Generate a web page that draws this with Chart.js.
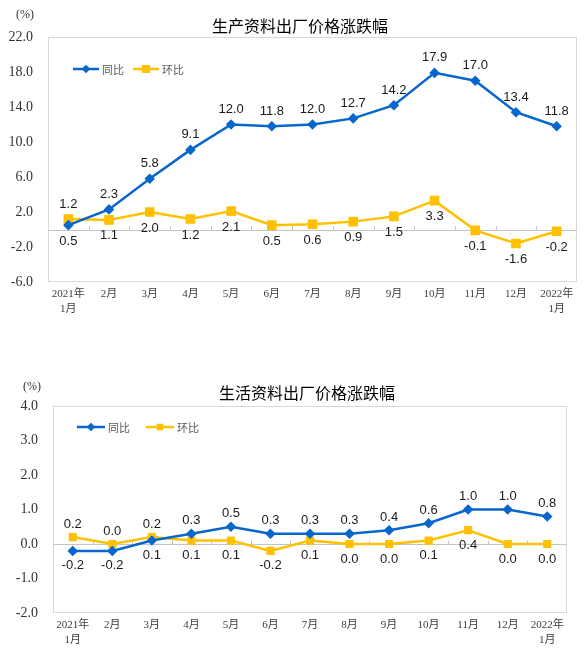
<!DOCTYPE html>
<html>
<head>
<meta charset="utf-8">
<script src="https://cdn.jsdelivr.net/npm/chart.js@4.4.1/dist/chart.umd.min.js"></script>
<style>
  body { margin: 0; background: #fff; }
  canvas { position: absolute; left: 0; }
</style>
</head>
<body>
<canvas id="shengchan" width="585" height="325" style="top:0"></canvas>
<canvas id="shenghuo" width="585" height="328" style="top:325px"></canvas>
<script>
// ---- DATA ----
const maanden = [["2021年", "1月"], "2月", "3月", "4月", "5月", "6月", "7月", "8月", "9月", "10月", "11月", "12月", ["2022年", "1月"]];

const scTitel = "生产资料出厂价格涨跌幅";
const scTongbi = [0.5, 2.3, 5.8, 9.1, 12.0, 11.8, 12.0, 12.7, 14.2, 17.9, 17.0, 13.4, 11.8];
const scHuanbi = [1.2, 1.1, 2.0, 1.2, 2.1, 0.5, 0.6, 0.9, 1.5, 3.3, -0.1, -1.6, -0.2];
const scTicks = [-6, -2, 2, 6, 10, 14, 18, 22];

const shTitel = "生活资料出厂价格涨跌幅";
const shTongbi = [-0.2, -0.2, 0.1, 0.3, 0.5, 0.3, 0.3, 0.3, 0.4, 0.6, 1.0, 1.0, 0.8];
const shHuanbi = [0.2, 0.0, 0.2, 0.1, 0.1, -0.2, 0.1, 0.0, 0.0, 0.1, 0.4, 0.0, 0.0];
const shTicks = [-2, -1, 0, 1, 2, 3, 4];

const reeksNamen = ["同比", "环比"];
const BLAUW = "#0866cc";
const GEEL = "#ffc000";

// ---- PLUGIN: kader, nullijn, labels, legende, titel ----
const kaderPlugin = {
    id: "kader",
    beforeDatasetsDraw(chart, args, o) {
        const ctx = chart.ctx;
        const a = chart.chartArea;
        const x = chart.scales.x;
        const y = chart.scales.y;
        ctx.save();
        ctx.lineWidth = 1;
        ctx.strokeStyle = "#d9d9d9";
        ctx.strokeRect(a.left + 0.5, a.top + 0.5, a.width - 1, a.height - 1);
        const y0 = Math.round(y.getPixelForValue(0)) + 0.5;
        ctx.strokeStyle = "#c4c4c4";
        ctx.beginPath();
        ctx.moveTo(a.left, y0);
        ctx.lineTo(a.right, y0);
        const n = chart.data.labels.length;
        for (let i = 1; i < n; i++) {
            const xb = Math.round((x.getPixelForValue(i - 1) + x.getPixelForValue(i)) / 2) + 0.5;
            ctx.moveTo(xb, y0);
            ctx.lineTo(xb, y0 - 4);
        }
        ctx.stroke();
        ctx.restore();
    },
    afterDatasetsDraw(chart, args, o) {
        const ctx = chart.ctx;
        const a = chart.chartArea;
        const sets = chart.data.datasets;
        ctx.save();
        // waardelabels: hoogste waarde boven, laagste onder
        ctx.font = "13px 'Liberation Sans', Arial, sans-serif";
        ctx.fillStyle = "#1a1a1a";
        ctx.textAlign = "center";
        ctx.textBaseline = "middle";
        sets.forEach((ds, d) => {
            const meta = chart.getDatasetMeta(d);
            meta.data.forEach((pt, i) => {
                const ander = sets[1 - d].data[i];
                const boven = ds.data[i] > ander || (ds.data[i] === ander && d === 0);
                const dy = boven ? -o.boven : o.onder;
                ctx.fillText(ds.data[i].toFixed(1), pt.x, pt.y + dy);
            });
        });
        // legende
        ctx.font = "11px 'Noto Sans CJK SC', sans-serif";
        ctx.textAlign = "left";
        sets.forEach((ds, d) => {
            const lx = a.left + o.legendX[d];
            const ly = a.top + o.legendY;
            ctx.strokeStyle = ds.borderColor;
            ctx.lineWidth = 2.5;
            ctx.beginPath();
            ctx.moveTo(lx, ly);
            ctx.lineTo(lx + o.legendLijn, ly);
            ctx.stroke();
            ctx.fillStyle = ds.borderColor;
            Chart.helpers.drawPoint(ctx, {
                pointStyle: ds.pointStyle, radius: ds.pointRadius - 1, rotation: 0, borderWidth: 1
            }, lx + o.legendLijn / 2, ly);
            ctx.fillStyle = "#595959";
            ctx.fillText(reeksNamen[d], lx + o.legendLijn + 3, ly + 1);
        });
        // titel en eenheid
        ctx.font = "16px 'Noto Sans CJK SC', sans-serif";
        ctx.fillStyle = "#000";
        ctx.textAlign = "center";
        ctx.fillText(o.titel, o.titelX, a.top - o.titelDy);
        ctx.font = "12px 'Liberation Serif', serif";
        ctx.fillStyle = "#333";
        ctx.fillText("(%)", o.eenheidX, a.top - o.eenheidDy);
        ctx.restore();
    }
};

function maakGrafiek(id, tongbi, huanbi, ticks, links, rechts, boven, onder, hoogte, extra) {
    const ctx = document.getElementById(id).getContext("2d");
    return new Chart(ctx, {
        type: "line",
        data: {
            labels: maanden,
            datasets: [{
                label: reeksNamen[0],
                data: tongbi,
                borderColor: BLAUW,
                backgroundColor: BLAUW,
                borderWidth: extra.lijn,
                pointStyle: "rectRot",
                pointRadius: 3.5,
                tension: 0
            }, {
                label: reeksNamen[1],
                data: huanbi,
                borderColor: GEEL,
                backgroundColor: GEEL,
                borderWidth: extra.lijn,
                pointStyle: "rect",
                pointRadius: extra.blok,
                tension: 0
            }]
        },
        plugins: [kaderPlugin],
        options: {
            responsive: false,
            animation: false,
            devicePixelRatio: 1,
            layout: { padding: { top: boven, right: 585 - rechts, left: 0, bottom: 0 } },
            plugins: {
                legend: { display: false },
                tooltip: { enabled: false },
                kader: extra
            },
            scales: {
                x: {
                    offset: true,
                    grid: { display: false, drawTicks: false },
                    border: { display: false },
                    ticks: {
                        color: "#404040",
                        font: { family: "'Liberation Serif', 'Noto Sans CJK SC', serif", size: 11, lineHeight: 1.36 },
                        padding: 5,
                        maxRotation: 0,
                        autoSkip: false
                    },
                    afterFit: (s) => { s.height = hoogte - onder; }
                },
                y: {
                    min: ticks[0],
                    max: ticks[ticks.length - 1],
                    grid: { display: false, drawTicks: false },
                    border: { display: false },
                    afterBuildTicks: (s) => { s.ticks = ticks.map(v => ({ value: v })); },
                    ticks: {
                        color: "#333",
                        font: { family: "'Liberation Serif', serif", size: 14 },
                        padding: 15,
                        callback: (v) => Number(v).toFixed(1)
                    },
                    afterFit: (s) => { s.width = links; }
                }
            }
        }
    });
}

maakGrafiek("shengchan", scTongbi, scHuanbi, scTicks, 48, 577, 37, 282, 325, {
    titel: scTitel, titelX: 300, titelDy: 11, eenheidX: 25, eenheidDy: 22,
    legendX: [25, 85], legendY: 32, legendLijn: 26,
    boven: 15, onder: 16, lijn: 2.5, blok: 5
});
maakGrafiek("shenghuo", shTongbi, shHuanbi, shTicks, 53, 567, 81, 288, 328, {
    titel: shTitel, titelX: 307, titelDy: 13, eenheidX: 32, eenheidDy: 19,
    legendX: [24, 93], legendY: 21, legendLijn: 28,
    boven: 13, onder: 15, lijn: 2.5, blok: 4
});
</script>
</body>
</html>
